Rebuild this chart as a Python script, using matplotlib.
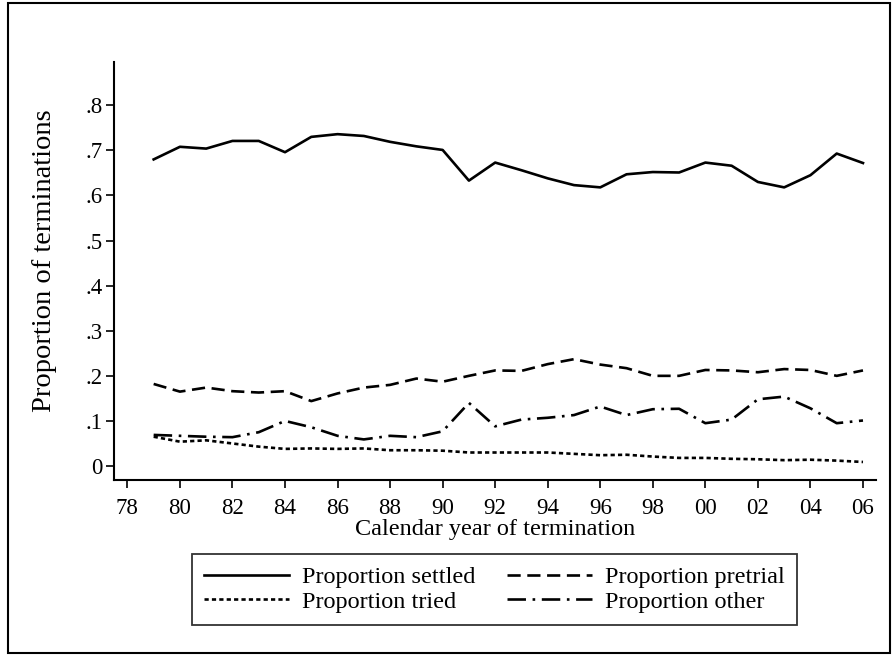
"""Proportion of terminations by calendar year, 1979-2006."""

import matplotlib

matplotlib.use("Agg")
import matplotlib.pyplot as plt
from matplotlib.patches import Rectangle

years = list(range(79, 107))
settled = [0.680, 0.708, 0.704, 0.721, 0.721, 0.696, 0.730, 0.736, 0.732, 0.719,
           0.709, 0.701, 0.633, 0.673, 0.656, 0.638, 0.623, 0.618, 0.647, 0.652,
           0.651, 0.673, 0.666, 0.630, 0.618, 0.645, 0.693, 0.672]
pretrial = [0.182, 0.165, 0.174, 0.166, 0.163, 0.166, 0.144, 0.161, 0.174, 0.180,
            0.194, 0.187, 0.200, 0.212, 0.211, 0.226, 0.237, 0.225, 0.217, 0.200,
            0.200, 0.213, 0.212, 0.208, 0.215, 0.213, 0.200, 0.212]
tried = [0.065, 0.054, 0.057, 0.050, 0.043, 0.038, 0.039, 0.038, 0.039, 0.035,
         0.035, 0.034, 0.030, 0.030, 0.030, 0.030, 0.027, 0.024, 0.025, 0.021,
         0.018, 0.018, 0.016, 0.015, 0.013, 0.014, 0.012, 0.009]
other = [0.069, 0.067, 0.065, 0.064, 0.075, 0.100, 0.086, 0.067, 0.059, 0.067,
         0.064, 0.077, 0.140, 0.088, 0.103, 0.107, 0.113, 0.132, 0.113, 0.126,
         0.127, 0.095, 0.103, 0.148, 0.154, 0.128, 0.095, 0.101]

x_ticks = list(range(78, 107, 2))
x_labels = [f"{t % 100:02d}" for t in x_ticks]
y_ticks = [0, 0.1, 0.2, 0.3, 0.4, 0.5, 0.6, 0.7, 0.8]
y_labels = ["0", ".1", ".2", ".3", ".4", ".5", ".6", ".7", ".8"]

plt.rcParams["font.family"] = ["Liberation Serif", "DejaVu Serif"]

fig = plt.figure(figsize=(8.94, 6.57), dpi=100)
ax = fig.add_axes([0.1275, 0.2694, 0.8525, 0.6362])

lw = 1.9
h_settled, = ax.plot(years, settled, color="black", lw=lw, label="Proportion settled")
h_pretrial, = ax.plot(years, pretrial, color="black", lw=lw, dashes=(5, 2.5),
                      label="Proportion pretrial")
h_tried, = ax.plot(years, tried, color="black", lw=lw, dashes=(1.6, 1.2),
                   label="Proportion tried")
h_other, = ax.plot(years, other, color="black", lw=lw, dashes=(7, 2.5, 1, 2.5),
                   label="Proportion other")

ax.set_xlim(77.49, 106.5)
ax.set_ylim(-0.031, 0.896)
ax.set_xticks(x_ticks)
ax.set_xticklabels(x_labels)
ax.set_yticks(y_ticks)
ax.set_yticklabels(y_labels)
ax.tick_params(labelsize=16.5, length=6, width=1.2, pad=2, direction="out", colors="black")
ax.tick_params(axis="x", pad=7)

for side in ("top", "right"):
    ax.spines[side].set_visible(False)
for side in ("left", "bottom"):
    ax.spines[side].set_linewidth(1.5)

ax.set_xlabel("Calendar year of termination", fontsize=17.5, labelpad=0)
ax.set_ylabel("Proportion of terminations", fontsize=20.5)
ax.yaxis.set_label_coords(-0.075, 0.524)

# row-wise order: settled, pretrial / tried, other
handles = [h_settled, h_tried, h_pretrial, h_other]
leg = fig.legend(handles=handles, labels=[h.get_label() for h in handles],
                 loc="center", bbox_to_anchor=(0.5531, 0.1027), ncol=2,
                 fontsize=17.5, frameon=True, fancybox=False, handlelength=3.5,
                 columnspacing=1.3, handletextpad=0.53, borderpad=0.5,
                 borderaxespad=0, labelspacing=0.1, edgecolor="black")
leg.get_frame().set_linewidth(1.3)

fig.patches.append(Rectangle((0.009, 0.006), 0.987, 0.99, transform=fig.transFigure,
                             fill=False, edgecolor="black", lw=1.5))

fig.savefig("out.png", dpi=100)
